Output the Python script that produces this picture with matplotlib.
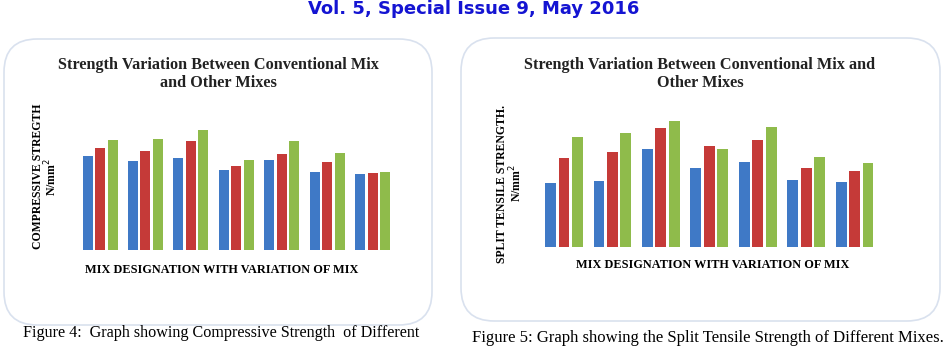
import matplotlib.pyplot as plt
from matplotlib.patches import FancyBboxPatch
import numpy as np

# ---- Data (relative bar heights) ----
mixes = ["M1", "M2", "M3", "M4", "M5", "M6", "M7"]

# Figure 4: compressive strength, three series per mix
comp_s1 = [28.2, 26.7, 27.6, 24.1, 27.0, 23.5, 22.7]
comp_s2 = [30.5, 29.6, 32.7, 25.3, 28.8, 26.4, 23.0]
comp_s3 = [33.0, 33.3, 36.0, 27.0, 32.7, 29.0, 23.3]

# Figure 5: split tensile strength, three series per mix
split_s1 = [1.92, 1.98, 2.95, 2.37, 2.55, 2.03, 1.95]
split_s2 = [2.69, 2.85, 3.58, 3.03, 3.21, 2.38, 2.29]
split_s3 = [3.32, 3.43, 3.79, 2.94, 3.60, 2.72, 2.54]

colors = ["#3f79c6", "#c53a38", "#8fbb4b"]

W, H = 948, 348
fig = plt.figure(figsize=(W / 100, H / 100), dpi=100)


def px_axes(left, top, right, bottom):
    # pixel box (from top-left) -> figure fraction axes
    return fig.add_axes([left / W, 1 - bottom / H, (right - left) / W, (bottom - top) / H])


def fx(x):
    return x / W


def fy(y):
    return 1 - y / H


# rounded frames around each chart (kept behind the axes)
for (l, t, r, b) in [(4, 39, 432, 325), (461, 38, 940, 321)]:
    box = FancyBboxPatch((fx(l), fy(b)), fx(r - l), (b - t) / H,
                         boxstyle="round,pad=0,rounding_size=0.035",
                         transform=fig.transFigure, facecolor="white",
                         edgecolor="#d9e1ee", linewidth=1.2,
                         mutation_aspect=W / H, zorder=-5)
    fig.patches.append(box)


def draw_bars(ax, series, step, width, ymax):
    x = np.arange(len(mixes))
    for k, vals in enumerate(series):
        ax.bar(x + (k - 1) * step, vals, width=width, color=colors[k],
               edgecolor="none")
    ax.set_xlim(-0.5, len(mixes) - 0.5)
    ax.set_ylim(0, ymax)
    ax.axis("off")


# ---- Figure 4 ----
ax1 = px_axes(77.3, 100, 395.4, 250)
draw_bars(ax1, [comp_s1, comp_s2, comp_s3], 0.275, 0.22, 45)

# ---- Figure 5 ----
ax2 = px_axes(539.6, 97.3, 878.9, 247.3)
draw_bars(ax2, [split_s1, split_s2, split_s3], 0.278, 0.22, 4.5)

serif = "Liberation Serif"
tcol = "#222222"

# chart titles
fig.text(fx(218), fy(65), "Strength Variation Between Conventional Mix",
         ha="center", va="center", fontsize=11.7, fontweight="bold", family=serif, color=tcol)
fig.text(fx(218), fy(83), "and Other Mixes",
         ha="center", va="center", fontsize=11.7, fontweight="bold", family=serif, color=tcol)
fig.text(fx(700), fy(65), "Strength Variation Between Conventional Mix and",
         ha="center", va="center", fontsize=11.7, fontweight="bold", family=serif, color=tcol)
fig.text(fx(700), fy(83), "Other Mixes",
         ha="center", va="center", fontsize=11.7, fontweight="bold", family=serif, color=tcol)

# axis labels
fig.text(fx(38), fy(176), "COMPRESSIVE STREGTH", rotation=90,
         ha="center", va="center", fontsize=8.5, fontweight="bold", family=serif)
fig.text(fx(51), fy(177), "N/mm$^2$", rotation=90,
         ha="center", va="center", fontsize=8.5, fontweight="bold", family=serif)
fig.text(fx(222), fy(270), "MIX DESIGNATION WITH VARIATION OF MIX",
         ha="center", va="center", fontsize=8.8, fontweight="bold", family=serif)

fig.text(fx(502), fy(184), "SPLIT TENSILE STRENGTH.", rotation=90,
         ha="center", va="center", fontsize=8.5, fontweight="bold", family=serif)
fig.text(fx(516.5), fy(183), "N/mm$^2$", rotation=90,
         ha="center", va="center", fontsize=8.5, fontweight="bold", family=serif)
fig.text(fx(713), fy(265), "MIX DESIGNATION WITH VARIATION OF MIX",
         ha="center", va="center", fontsize=8.8, fontweight="bold", family=serif)

# captions
fig.text(fx(221), fy(333), "Figure 4:  Graph showing Compressive Strength  of Different",
         ha="center", va="center", fontsize=11.6, family=serif)
fig.text(fx(708), fy(338), "Figure 5: Graph showing the Split Tensile Strength of Different Mixes.",
         ha="center", va="center", fontsize=12, family=serif)

# page header
fig.text(0.5, fy(14), "Vol. 5, Special Issue 9, May 2016",
         ha="center", va="baseline", fontsize=13, fontweight="bold",
         family="DejaVu Sans", color="#1414d2")

fig.savefig("out.png", dpi=100)
